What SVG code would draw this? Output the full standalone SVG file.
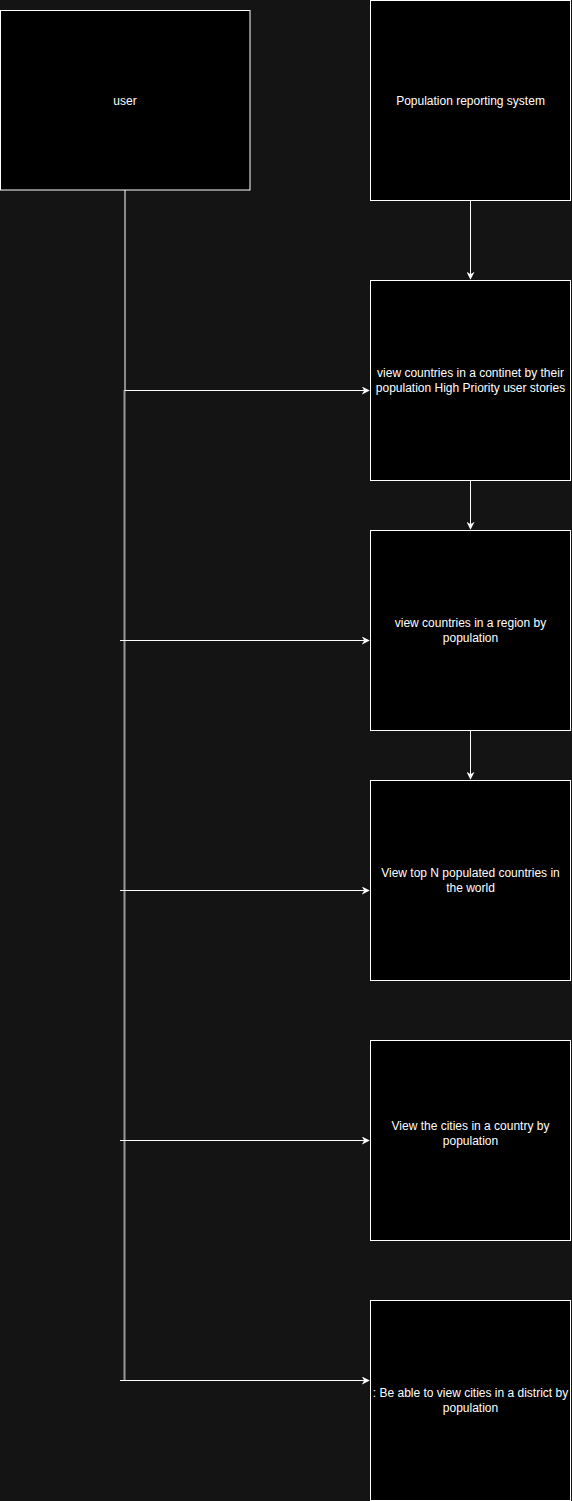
<svg xmlns="http://www.w3.org/2000/svg" width="572" height="1501" viewBox="0 0 572 1501">
<style>
.box{fill:#000;stroke:#fff;stroke-width:1}
.t{font-family:"Liberation Sans",Arial,sans-serif;font-size:12px;fill:#fff;text-anchor:middle}
.c{fill:none;stroke:#fff;stroke-width:1}
</style>
<defs>
<marker id="ah" viewBox="0 0 10 10" refX="9" refY="5" markerWidth="8" markerHeight="8" markerUnits="userSpaceOnUse" orient="auto">
<path d="M0,0 L10,5 L0,10 L3,5 Z" fill="#fff"/>
</marker>
</defs>
<rect x="0" y="0" width="572" height="1501" fill="#141414"/>
<g id="connectors">
<line x1="124.5" y1="390" x2="124.5" y2="1380" stroke="#999" stroke-width="2"/>
<path class="c" d="M125,190 V390.5 H369" marker-end="url(#ah)"/>
<path class="c" d="M470.5,200 V279" marker-end="url(#ah)"/>
<path class="c" d="M470.5,480 V529" marker-end="url(#ah)"/>
<path class="c" d="M470.5,730 V779" marker-end="url(#ah)"/>
<path class="c" d="M120,640.5 H369" marker-end="url(#ah)"/>
<path class="c" d="M120,890.5 H369" marker-end="url(#ah)"/>
<path class="c" d="M120,1140.5 H369" marker-end="url(#ah)"/>
<path class="c" d="M120,1380.5 H369" marker-end="url(#ah)"/>
</g>
<g id="user"><rect class="box" x="0.5" y="10.5" width="249.5" height="179.5"/><text class="t" x="125" y="104.5">user</text></g>
<g id="system"><rect class="box" x="370.5" y="0.5" width="200" height="200"/><text class="t" x="470.5" y="104.5">Population reporting system</text></g>
<g id="story1"><rect class="box" x="370.5" y="280.5" width="200" height="200"/><text class="t" x="470.5" y="377">view countries in a continet by their</text><text class="t" x="470.5" y="391.5">population High Priority user stories</text></g>
<g id="story2"><rect class="box" x="370.5" y="530.5" width="200" height="200"/><text class="t" x="470.5" y="627">view countries in a region by</text><text class="t" x="470.5" y="641.5">population</text></g>
<g id="story3"><rect class="box" x="370.5" y="780.5" width="200" height="200"/><text class="t" x="470.5" y="877">View top N populated countries in</text><text class="t" x="470.5" y="891.5">the world</text></g>
<g id="story4"><rect class="box" x="370.5" y="1040.5" width="200" height="200"/><text class="t" x="470.5" y="1130">View the cities in a country by</text><text class="t" x="470.5" y="1144.5">population</text></g>
<g id="story5"><rect class="box" x="370.5" y="1300.5" width="200" height="200"/><text class="t" x="470.5" y="1397">: Be able to view cities in a district by</text><text class="t" x="470.5" y="1411.5">population</text></g>
</svg>
